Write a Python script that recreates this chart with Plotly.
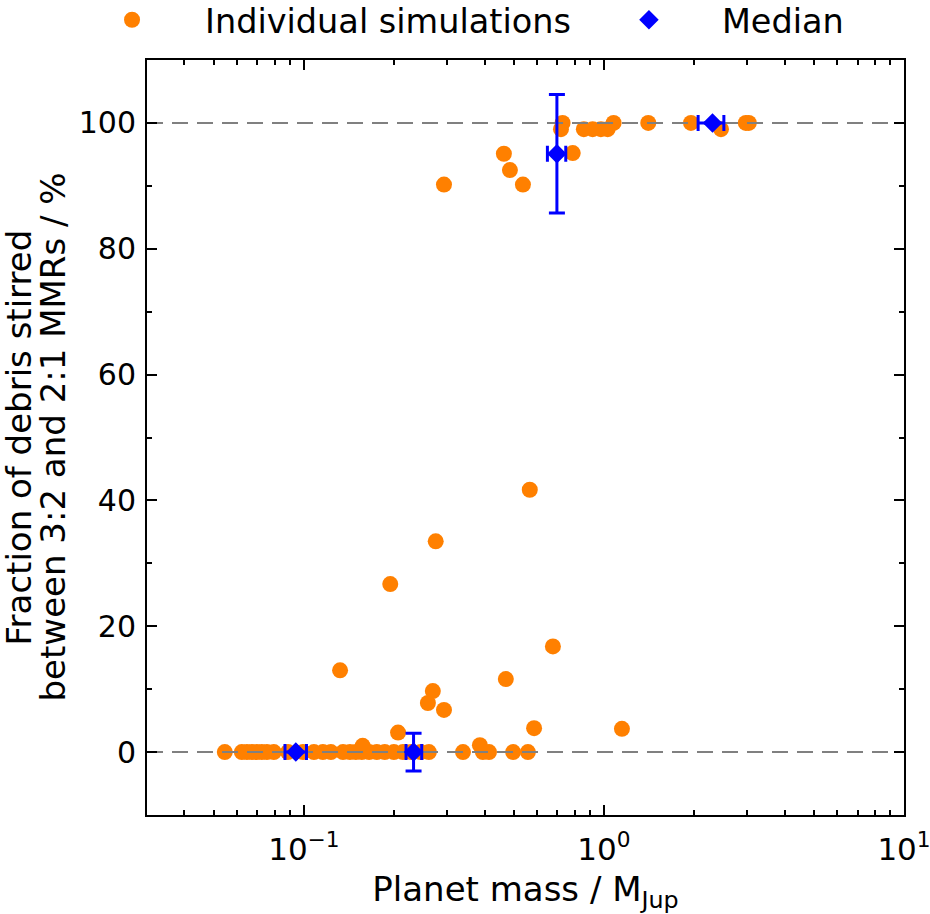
import plotly.graph_objects as go

# Individual simulations: planet mass (M_Jup) and fraction stirred (%)
sim_mass = [
    0.0545, 0.0621, 0.0646, 0.0671, 0.0697, 0.0724, 0.0753, 0.0794, 0.0885, 0.0993,
    0.108, 0.1157, 0.123, 0.135, 0.1424, 0.149, 0.156, 0.165, 0.175, 0.186,
    0.1995, 0.214, 0.2275, 0.245, 0.261, 0.339, 0.395, 0.414, 0.498, 0.558,
    0.157, 0.386, 0.206, 0.585, 1.148, 0.293, 0.259, 0.269, 0.471, 0.132,
    0.676, 0.194, 0.275, 0.566,
    0.293, 0.464, 0.486, 0.537, 0.728, 0.719, 0.787, 0.857, 0.917, 0.977,
    1.029, 1.077, 1.405, 1.95, 2.455, 2.97, 3.04,
]
sim_frac = [
    0, 0, 0, 0, 0, 0, 0, 0, 0, 0,
    0, 0, 0, 0, 0, 0, 0, 0, 0, 0,
    0, 0, 0, 0, 0, 0, 0, 0, 0, 0,
    1.0, 1.1, 3.1, 3.8, 3.7, 6.7, 7.8, 9.7, 11.6, 13.0,
    16.8, 26.7, 33.5, 41.7,
    90.2, 95.1, 92.5, 90.2, 100, 99.0, 95.2, 99.0, 99.0, 99.0,
    99.0, 100, 100, 100, 99.0, 100, 100,
]

# Medians with uncertainties
med_mass = [0.094, 0.232, 0.697, 2.30]
med_frac = [0, 0, 95.1, 100]
med_mass_minus = [0.0075, 0.013, 0.049, 0.24]
med_mass_plus = [0.008, 0.015, 0.049, 0.21]
med_frac_err = [0, 3.0, 9.4, 0]

x_range = [0.03, 10]
ref_levels = [0, 100]

x_tickvals = [0.1, 1, 10]
x_ticktext = ["10<sup>\u22121</sup>", "10<sup>0</sup>", "10<sup>1</sup>"]
x_minor = [m * d for d in (0.01, 0.1, 1) for m in range(2, 10) if 0.03 <= m * d <= 10]
y_tickvals = [0, 20, 40, 60, 80, 100]

y_title_lines = ["Fraction of debris stirred", "between 3:2 and 2:1 MMRs / %"]

FONT = "DejaVu Sans"
FS_XTICK = 31
FS_YTICK = 30
FS_TITLE = 34
FS_LEG = 33.5

fig = go.Figure()
fig.add_trace(go.Scatter(
    x=sim_mass, y=sim_frac, mode="markers", name="Individual simulations",
    marker=dict(color="#ff8000", size=16, line=dict(width=0)),
))
for lvl in ref_levels:
    fig.add_trace(go.Scatter(
        x=x_range, y=[lvl, lvl], mode="lines", showlegend=False, hoverinfo="skip",
        line=dict(color="#808080", width=2, dash="16px,9px"),
    ))
fig.add_trace(go.Scatter(
    x=med_mass, y=med_frac, mode="markers", name="Median",
    marker=dict(color="#0000ff", symbol="diamond", size=15, line=dict(width=0)),
    error_x=dict(type="data", symmetric=False, array=med_mass_plus, arrayminus=med_mass_minus,
                 color="#0000ff", thickness=3, width=8),
    error_y=dict(type="data", array=med_frac_err, color="#0000ff", thickness=3, width=8),
))

axis_common = dict(
    showline=True, linecolor="black", linewidth=2, mirror="ticks",
    ticks="inside", ticklen=10, tickwidth=2, tickcolor="black",
    showgrid=False, zeroline=False, automargin=False,
    ticklabeloverflow="allow",
)

fig.update_xaxes(
    type="log", range=[-1.5228787, 1], tickmode="array",
    tickvals=x_tickvals, ticktext=x_ticktext,
    tickfont=dict(family=FONT, size=FS_XTICK, color="black"),
    ticklabelstandoff=6,
    minor=dict(tickmode="array", tickvals=x_minor, ticks="inside", ticklen=5,
               tickwidth=1.5, tickcolor="black", showgrid=False),
    title=dict(text="Planet mass / M<sub>Jup</sub>", font=dict(family=FONT, size=FS_TITLE, color="black"),
               standoff=11),
    **axis_common,
)
fig.update_yaxes(
    range=[-10, 110], tickmode="array", tickvals=y_tickvals,
    tickfont=dict(family=FONT, size=FS_YTICK, color="black"),
    ticklabelstandoff=3,
    minor=dict(dtick=10, ticks="inside", ticklen=5, tickwidth=1.5, tickcolor="black", showgrid=False),
    **axis_common,
)

for txt, px in zip(y_title_lines, [18, 52]):
    fig.add_annotation(
        text=txt, textangle=-90, xref="paper", yref="paper", x=0, y=0.5,
        xanchor="center", yanchor="middle", xshift=px - 147, showarrow=False,
        font=dict(family=FONT, size=FS_TITLE, color="black"),
    )

fig.update_layout(
    width=930, height=914,
    margin=dict(l=147, r=26, t=60, b=99, autoexpand=False),
    plot_bgcolor="white", paper_bgcolor="white",
    font=dict(family=FONT, size=FS_YTICK, color="black"),
    legend=dict(orientation="h", x=-0.1162, xanchor="left", y=1.053, yanchor="middle",
                font=dict(family=FONT, size=FS_LEG, color="black"), itemwidth=136,
                bgcolor="rgba(0,0,0,0)"),
    showlegend=True,
)

fig.write_html("out.html", config={"displayModeBar": False},
               post_script="document.body.style.margin='0px';")
